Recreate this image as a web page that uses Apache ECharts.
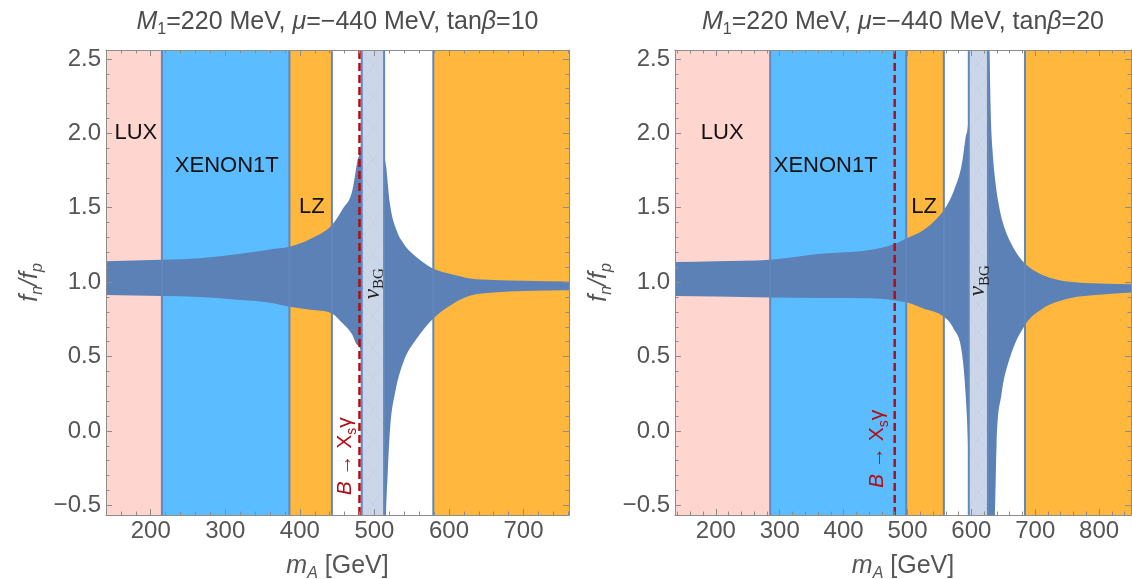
<!DOCTYPE html>
<html><head><meta charset="utf-8">
<script src="https://cdn.jsdelivr.net/npm/echarts@6/dist/echarts.min.js"></script>
<style>html,body{margin:0;padding:0;background:#fff}#c{width:1132px;height:579px}</style>
</head><body><div id="c"></div>
<script>
// ---------------- data ----------------
const tanBeta = ['10', '20'];
const yRange = [-0.565, 2.56];
const p1XRange = [140, 761];
const p2XRange = [136, 850];

// excluded regions [from, to, experiment]
const p1Regions = [[140, 215, 'LUX'], [215, 386, 'XENON1T'], [386, 443, 'LZ'], [579, 761, 'LZ']];
const p2Regions = [[136, 285, 'LUX'], [285, 498, 'XENON1T'], [498, 557, 'LZ'], [684, 850, 'LZ']];
const p1VBG = [483, 513];
const p2VBG = [596, 626];
const p1Edges = [215, 386, 443, 483, 513, 579];
const p2Edges = [285, 498, 557, 596, 626, 684];
const p1BXsg = 480;
const p2BXsg = 480;

// f_n/f_p band, branch below the pole
const p1LoX  = [140, 215, 266, 320, 360, 386, 414, 443, 458, 470, 477, 483, 495];
const p1LoUp = [1.14, 1.15, 1.16, 1.19, 1.22, 1.238, 1.29, 1.384, 1.496, 1.608, 1.81, 2.0, 4.0];
const p1LoDn = [0.913, 0.906, 0.90, 0.88, 0.862, 0.835, 0.815, 0.79, 0.72, 0.65, 0.577, 0.5, -2.0];
// branch above the pole
const p1HiUpX = [505, 513, 516, 521, 530, 539, 548, 557, 579, 606, 628, 660, 700, 761];
const p1HiUp  = [4.0, 1.95, 1.77, 1.52, 1.345, 1.26, 1.205, 1.165, 1.09, 1.05, 1.025, 1.015, 1.01, 1.005];
const p1HiDnX = [505, 513, 515.5, 517.5, 521, 528, 539, 557, 579, 606, 628, 660, 700, 761];
const p1HiDn  = [-3.0, -1.5, -0.6, -0.32, 0.016, 0.263, 0.464, 0.622, 0.756, 0.857, 0.908, 0.93, 0.94, 0.945];

const p2LoX  = [136, 200, 285, 363, 441, 478, 498, 525, 557, 572, 585, 591, 596, 610];
const p2LoUp = [1.135, 1.14, 1.15, 1.19, 1.216, 1.254, 1.294, 1.35, 1.485, 1.608, 1.79, 1.97, 2.15, 5.0];
const p2LoDn = [0.906, 0.903, 0.897, 0.894, 0.891, 0.879, 0.864, 0.823, 0.767, 0.689, 0.532, 0.25, -0.25, -4.0];
const p2HiUpX = [620, 628.5, 630, 633, 637, 643, 650, 666, 684, 712, 754, 800, 850];
const p2HiUp  = [6.0, 2.6, 2.2, 1.9, 1.70, 1.52, 1.39, 1.23, 1.126, 1.047, 1.002, 0.99, 0.985];
const p2HiDnX = [620, 626, 637, 639.5, 647, 660, 684, 712, 754, 800, 850];
const p2HiDn  = [-4.0, -1.5, -0.565, -0.096, 0.24, 0.487, 0.711, 0.823, 0.891, 0.915, 0.93];

// text anchors (data coordinates)
const p1Labels = [['LUX', 180, 2.0], ['XENON1T', 302, 1.78], ['LZ', 416, 1.507]];
const p2Labels = [['LUX', 210, 2.0], ['XENON1T', 372, 1.78], ['LZ', 526, 1.507]];
const p1VbgLabel = [498, 0.99];
const p2VbgLabel = [611, 1.01];
const p1BsgLabel = [461, -0.17];
const p2BsgLabel = [453, -0.12];

// ---------------- styling ----------------
const FONT = '"Liberation Sans", Arial, Helvetica, sans-serif';
const SERIF = '"Liberation Serif", "DejaVu Serif", serif';
const FILL = {LUX: '#ffd5d0', XENON1T: '#5bbdff', LZ: '#ffb73d'};
const BAND = '#5c81b6', EDGE = '#6287bc', VBG = '#cbd7e9', RED = '#b20d16', FRAME = '#8c8c8c', TXT = '#555555';

const grids = [
  {left: 106, top: 50, width: 463, height: 465},
  {left: 675, top: 50, width: 456, height: 465}
];

function fmtY(v) { const r = Math.round(v * 2) / 2; if (Math.abs(v - r) > 1e-6) return ''; return r.toFixed(1).replace('-', '\u2212'); }
function fmtX(v) { const r = Math.round(v / 100) * 100; if (Math.abs(v - r) > 1e-6) return ''; return String(r); }

const tickCommon = {
  axisLine: {show: true, onZero: false, lineStyle: {color: FRAME, width: 1}},
  axisTick: {show: true, inside: true, length: 6, lineStyle: {color: FRAME}},
  minorTick: {show: true, splitNumber: 5, length: 3.5, lineStyle: {color: FRAME}},
  splitLine: {show: false}, minorSplitLine: {show: false}, z: 100, zlevel: 1
};
const labelCommon = {color: TXT, fontSize: 24, fontFamily: FONT, showMinLabel: false, showMaxLabel: false};

function xAxes(gi, range) {
  const base = Object.assign({type: 'value', gridIndex: gi, min: range[0], max: range[1], splitNumber: 7}, tickCommon);
  return [
    Object.assign({}, base, {position: 'bottom', axisLabel: Object.assign({show: true, margin: 4, formatter: fmtX}, labelCommon)}),
    Object.assign({}, base, {position: 'top', axisLabel: {show: false}})
  ];
}
function yAxes(gi) {
  const base = Object.assign({type: 'value', gridIndex: gi, min: yRange[0], max: yRange[1], splitNumber: 7}, tickCommon);
  return [
    Object.assign({}, base, {position: 'left', axisLabel: Object.assign({show: true, margin: 5, formatter: fmtY}, labelCommon)}),
    Object.assign({}, base, {position: 'right', axisLabel: {show: false}})
  ];
}

function clipOf(params) { const c = params.coordSys; return {type: 'rect', shape: {x: c.x, y: c.y, width: c.width, height: c.height}}; }

// monotone cubic (Fritsch-Carlson) through pixel points, x increasing
function monotoneSegs(p) {
  const n = p.length, d = [], m = [];
  for (let i = 0; i < n - 1; i++) d.push((p[i + 1][1] - p[i][1]) / (p[i + 1][0] - p[i][0]));
  m[0] = d[0]; m[n - 1] = d[n - 2];
  for (let i = 1; i < n - 1; i++) m[i] = (d[i - 1] * d[i] <= 0) ? 0 : (d[i - 1] + d[i]) / 2;
  for (let i = 0; i < n - 1; i++) {
    if (d[i] === 0) { m[i] = 0; m[i + 1] = 0; continue; }
    const a = m[i] / d[i], b = m[i + 1] / d[i], s = a * a + b * b;
    if (s > 9) { const t = 3 / Math.sqrt(s); m[i] = t * a * d[i]; m[i + 1] = t * b * d[i]; }
  }
  const segs = [];
  for (let i = 0; i < n - 1; i++) {
    const h = p[i + 1][0] - p[i][0];
    segs.push([p[i][0] + h / 3, p[i][1] + m[i] * h / 3, p[i + 1][0] - h / 3, p[i + 1][1] - m[i + 1] * h / 3, p[i + 1][0], p[i + 1][1]]);
  }
  return segs;
}

function regionSeries(gi, regions) {
  return {type: 'custom', xAxisIndex: gi * 2, yAxisIndex: gi * 2, z: 1, silent: true,
    data: regions.map(r => [r[0], r[1]]),
    renderItem(params, api) {
      const a = api.coord([api.value(0), yRange[1]]), b = api.coord([api.value(1), yRange[0]]);
      return {type: 'rect', shape: {x: a[0], y: a[1], width: b[0] - a[0], height: b[1] - a[1]},
        style: {fill: FILL[regions[params.dataIndex][2]]}};
    }};
}
function bandSeries(gi, branches) {
  return {type: 'custom', xAxisIndex: gi * 2, yAxisIndex: gi * 2, z: 2, silent: true,
    data: branches.map(b => [b.upX[0], 1]),
    renderItem(params, api) {
      const b = branches[params.dataIndex];
      const up = b.upX.map((x, i) => api.coord([x, b.up[i]]));
      const dn = b.dnX.map((x, i) => api.coord([x, b.dn[i]]));
      let path = 'M' + up[0][0] + ',' + up[0][1];
      monotoneSegs(up).forEach(s => { path += 'C' + s.join(','); });
      const dsegs = monotoneSegs(dn);
      path += 'L' + dn[dn.length - 1][0] + ',' + dn[dn.length - 1][1];
      for (let i = dsegs.length - 1; i >= 0; i--) {
        const s = dsegs[i], start = dn[i];
        path += 'C' + [s[2], s[3], s[0], s[1], start[0], start[1]].join(',');
      }
      path += 'Z';
      return {type: 'path', shape: {pathData: path}, style: {fill: BAND}, clipPath: clipOf(params)};
    }};
}
function vbgSeries(gi, span) {
  return {type: 'custom', xAxisIndex: gi * 2, yAxisIndex: gi * 2, z: 3, silent: true,
    data: [[span[0], span[1]]],
    renderItem(params, api) {
      const a = api.coord([api.value(0), yRange[1]]), b = api.coord([api.value(1), yRange[0]]);
      const w = b[0] - a[0], h = b[1] - a[1];
      const kids = [{type: 'rect', shape: {x: a[0], y: a[1], width: w, height: h}, style: {fill: VBG}}];
      const step = w * 1.4;
      for (let y = a[1]; y < b[1]; y += step) {
        kids.push({type: 'line', shape: {x1: a[0], y1: y, x2: b[0], y2: y + step}, style: {stroke: 'rgba(150,170,200,0.2)', lineWidth: 0.7}});
        kids.push({type: 'line', shape: {x1: b[0], y1: y, x2: a[0], y2: y + step}, style: {stroke: 'rgba(150,170,200,0.2)', lineWidth: 0.7}});
      }
      return {type: 'group', children: kids, clipPath: clipOf(params)};
    }};
}
function vlineSeries(gi, xs, style, z) {
  return {type: 'custom', xAxisIndex: gi * 2, yAxisIndex: gi * 2, z: z, silent: true,
    data: xs.map(x => [x, 1]),
    renderItem(params, api) {
      const a = api.coord([api.value(0), yRange[0]]), b = api.coord([api.value(0), yRange[1]]);
      return {type: 'line', shape: {x1: a[0], y1: a[1], x2: b[0], y2: b[1]}, style: style};
    }};
}
function textSeries(gi, items) {
  return {type: 'custom', xAxisIndex: gi * 2, yAxisIndex: gi * 2, z: 6, silent: true,
    data: items.map(t => [t[1], t[2]]),
    renderItem(params, api) {
      const t = items[params.dataIndex];
      const p = api.coord([api.value(0), api.value(1)]);
      return {type: 'text', x: p[0], y: p[1], rotation: t[3],
        style: {text: t[0], align: 'center', verticalAlign: 'middle', rich: t[4],
          fill: '#111', fontSize: 22, fontFamily: FONT}};
    }};
}

const vbgRich = {
  nu: {fontFamily: SERIF, fontSize: 23, fontStyle: 'italic', fill: '#222', lineHeight: 28, verticalAlign: 'middle'},
  sub: {fontFamily: SERIF, fontSize: 15, fill: '#222', lineHeight: 14, verticalAlign: 'bottom'}
};
const bsgRich = {
  i: {fontFamily: FONT, fontSize: 21, fontStyle: 'italic', fill: RED, lineHeight: 28, verticalAlign: 'middle'},
  t: {fontFamily: FONT, fontSize: 21, fill: RED, lineHeight: 28, verticalAlign: 'middle'},
  sub: {fontFamily: FONT, fontSize: 14, fill: RED, lineHeight: 14, verticalAlign: 'bottom'}
};
const plainRich = {};

function panelSeries(gi, regions, vbg, edges, bsg, branches, labels, vbgLab, bsgLab) {
  const texts = labels.map(l => [l[0], l[1], l[2], 0, plainRich]);
  texts.push(['{nu|\u03bd}{sub|BG}', vbgLab[0], vbgLab[1], Math.PI / 2, vbgRich]);
  texts.push(['{i|B}{t| \u2192 X}{sub|s}{t|\u03b3}', bsgLab[0], bsgLab[1], Math.PI / 2, bsgRich]);
  return [
    regionSeries(gi, regions),
    bandSeries(gi, branches),
    vbgSeries(gi, vbg),
    vlineSeries(gi, edges, {stroke: EDGE, lineWidth: 2}, 4),
    vlineSeries(gi, [bsg], {stroke: RED, lineWidth: 2.5, lineDash: [8, 4]}, 5),
    textSeries(gi, texts)
  ];
}

const series = [].concat(
  panelSeries(0, p1Regions, p1VBG, p1Edges, p1BXsg,
    [{upX: p1LoX, up: p1LoUp, dnX: p1LoX, dn: p1LoDn}, {upX: p1HiUpX, up: p1HiUp, dnX: p1HiDnX, dn: p1HiDn}],
    p1Labels, p1VbgLabel, p1BsgLabel),
  panelSeries(1, p2Regions, p2VBG, p2Edges, p2BXsg,
    [{upX: p2LoX, up: p2LoUp, dnX: p2LoX, dn: p2LoDn}, {upX: p2HiUpX, up: p2HiUp, dnX: p2HiDnX, dn: p2HiDn}],
    p2Labels, p2VbgLabel, p2BsgLabel)
);

const titleRich = {
  t: {fontFamily: FONT, fontSize: 25, fill: '#4d4d4d', lineHeight: 32, verticalAlign: 'middle'},
  i: {fontFamily: FONT, fontSize: 25, fontStyle: 'italic', fill: '#4d4d4d', lineHeight: 32, verticalAlign: 'middle'},
  s: {fontFamily: FONT, fontSize: 16, fill: '#4d4d4d', lineHeight: 16, verticalAlign: 'bottom'}
};
const nameRich = {
  t: {fontFamily: FONT, fontSize: 25, fill: TXT, lineHeight: 32, verticalAlign: 'middle'},
  i: {fontFamily: FONT, fontSize: 25, fontStyle: 'italic', fill: TXT, lineHeight: 32, verticalAlign: 'middle'},
  s: {fontFamily: FONT, fontSize: 16, fontStyle: 'italic', fill: TXT, lineHeight: 16, verticalAlign: 'bottom'}
};

const graphic = [];
grids.forEach((g, i) => {
  const cx = g.left + g.width / 2, cy = g.top + g.height / 2;
  graphic.push({type: 'text', x: cx, y: 22, style: {text: '{i|M}{s|1}{t|=220 MeV, }{i|\u03bc}{t|=\u2212440 MeV, tan}{i|\u03b2}{t|=' + tanBeta[i] + '}',
    rich: titleRich, align: 'center', verticalAlign: 'middle'}});
  graphic.push({type: 'text', x: cx, y: 566, style: {text: '{i|m}{s|A}{t| [GeV]}', rich: nameRich, align: 'center', verticalAlign: 'middle'}});
  graphic.push({type: 'text', x: g.left - 76, y: cy, rotation: Math.PI / 2,
    style: {text: '{i|f}{s|n}{i|/f}{s|p}', rich: nameRich, align: 'center', verticalAlign: 'middle'}});
});

const option = {
  animation: false,
  backgroundColor: '#ffffff',
  grid: grids.map(g => Object.assign({containLabel: false, outerBoundsMode: 'none'}, g)),
  xAxis: [].concat(xAxes(0, p1XRange), xAxes(1, p2XRange)),
  yAxis: [].concat(yAxes(0), yAxes(1)),
  series: series,
  graphic: graphic
};
option.xAxis[2].gridIndex = 1; option.xAxis[3].gridIndex = 1;
option.yAxis[2].gridIndex = 1; option.yAxis[3].gridIndex = 1;

const chart = echarts.init(document.getElementById('c'));
chart.setOption(option);
</script>
</body></html>
